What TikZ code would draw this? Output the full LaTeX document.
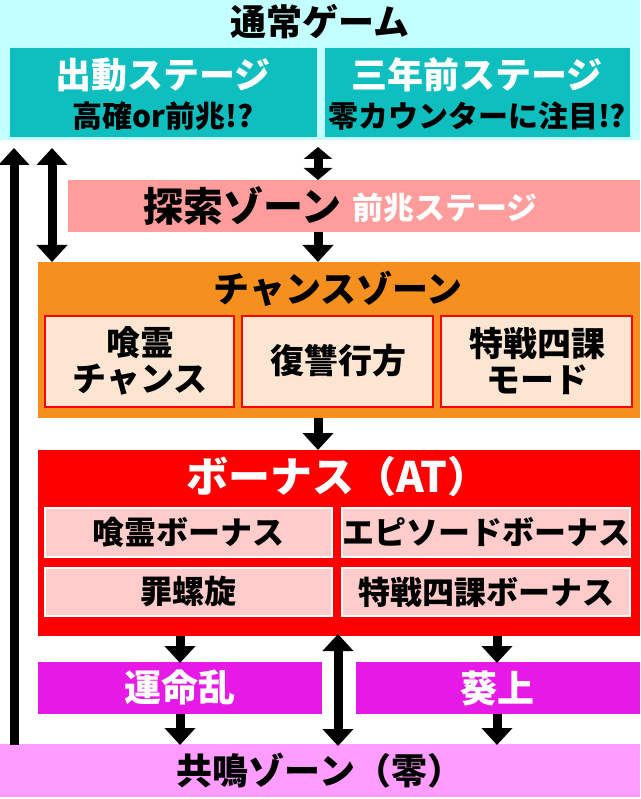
\documentclass[tikz,border=0pt]{standalone}
\usepackage{fontspec}
\newfontfamily\jp{Noto Sans CJK JP}
\usetikzlibrary{arrows.meta}
\definecolor{topbg}{HTML}{C4FFFF}
\definecolor{teal}{HTML}{0FBFBF}
\definecolor{salmon}{HTML}{FF9C9C}
\definecolor{orng}{HTML}{F5901E}
\definecolor{cream}{HTML}{FCE6D2}
\definecolor{bonusbg}{HTML}{FFCCCC}
\definecolor{mag}{HTML}{E619E6}
\definecolor{btmbg}{HTML}{FF9CFF}
\tikzset{
  band/.style={draw=none, inner sep=0pt},
  txt/.style={font=\jp\bfseries\fontsize{#1}{#1}\selectfont, inner sep=0pt},
  arr/.style={line width=9pt, -{Triangle[width=30pt,length=17pt]}},
  darr/.style={line width=9pt, {Triangle[width=30pt,length=17pt]}-{Triangle[width=30pt,length=17pt]}},
  sdarr/.style={line width=9pt, {Triangle[width=28pt,length=12pt]}-{Triangle[width=28pt,length=12pt]}},
}
\begin{document}
\begin{tikzpicture}[x=1pt, y=-1pt]
\useasboundingbox (0,0) rectangle (640,799);
\fill[white] (0,0) rectangle (640,799);

% Bloques de fondo
\fill[topbg] (0,0) rectangle (640,140);
\fill[teal] (10,48) rectangle (317,137);
\fill[teal] (325,48) rectangle (630,137);
\fill[salmon] (68,180) rectangle (640,232);
\fill[orng] (38,262) rectangle (640,418);
\fill[red] (38,450) rectangle (640,636);
\fill[mag] (38,662) rectangle (322,714);
\fill[mag] (356,662) rectangle (640,714);
\fill[btmbg] (0,744) rectangle (640,797);

% Cajas interiores
\foreach \xa/\xb in {45/234, 242/433, 441/632}
  \draw[red, line width=1.5pt, fill=cream] (\xa,316) rectangle (\xb,407);
\foreach \xa/\xb in {45/332, 342/630}
  \foreach \ya/\yb in {508/557, 568/616}
    \draw[white, line width=1.5pt, fill=bonusbg] (\xa,\ya) rectangle (\xb,\yb);

% Etiquetas
\node[txt=36] (normal) at (320,22) {通常ゲーム};
\node[txt=36, white] (shutsudo) at (163,75) {出動ステージ};
\node[txt=30] (shutsudo2) at (163,116) {高確or前兆!?};
\node[txt=36, white] (sannen) at (477,75) {三年前ステージ};
\node[txt=30] (sannen2) at (477,116) {零カウンターに注目!?};
\node[txt=40, anchor=east] (tansaku) at (342,206) {探索ゾーン};
\node[txt=31, white, anchor=west] (zencho) at (352,208) {前兆ステージ};
\node[txt=36] (chance) at (338,289) {チャンスゾーン};
\node[txt=34, align=center] (jikirei) at (140,361) {喰霊\\[2pt]チャンス};
\node[txt=34] (fukushu) at (338,361) {復讐行方};
\node[txt=34, align=center] (tokusen) at (537,361) {特戦四課\\[2pt]モード};
\node[txt=42, white] (bonus) at (338,477) {ボーナス（AT）};
\node[txt=32] (jbonus) at (188,532) {喰霊ボーナス};
\node[txt=32] (ebonus) at (486,532) {エピソードボーナス};
\node[txt=32] (tsumi) at (188,592) {罪螺旋};
\node[txt=32] (tbonus) at (486,592) {特戦四課ボーナス};
\node[txt=37, white] (unmei) at (180,688) {運命乱};
\node[txt=37, white] (aoi) at (497,688) {葵上};
\node[txt=36] (kyomei) at (320,771) {共鳴ゾーン（零）};

% Flechas
\coordinate (L1a) at (14,745);  \coordinate (L1b) at (14,148);
\coordinate (L2a) at (52,148);  \coordinate (L2b) at (52,262);
\coordinate (M1a) at (318,147); \coordinate (M1b) at (318,180);
\coordinate (M2a) at (318,232); \coordinate (M2b) at (318,262);
\coordinate (M3a) at (318,418); \coordinate (M3b) at (318,450);
\coordinate (B1a) at (338,634); \coordinate (B1b) at (338,746);
\draw[arr] (L1a) -- (L1b);
\draw[darr] (L2a) -- (L2b);
\draw[sdarr] (M1a) -- (M1b);
\draw[arr] (M2a) -- (M2b);
\draw[arr] (M3a) -- (M3b);
\draw[darr] (B1a) -- (B1b);
\foreach \x in {180, 497} {
  \draw[arr] (\x,636) -- (\x,663);
  \draw[arr] (\x,714) -- (\x,745);
}
\end{tikzpicture}
\end{document}
